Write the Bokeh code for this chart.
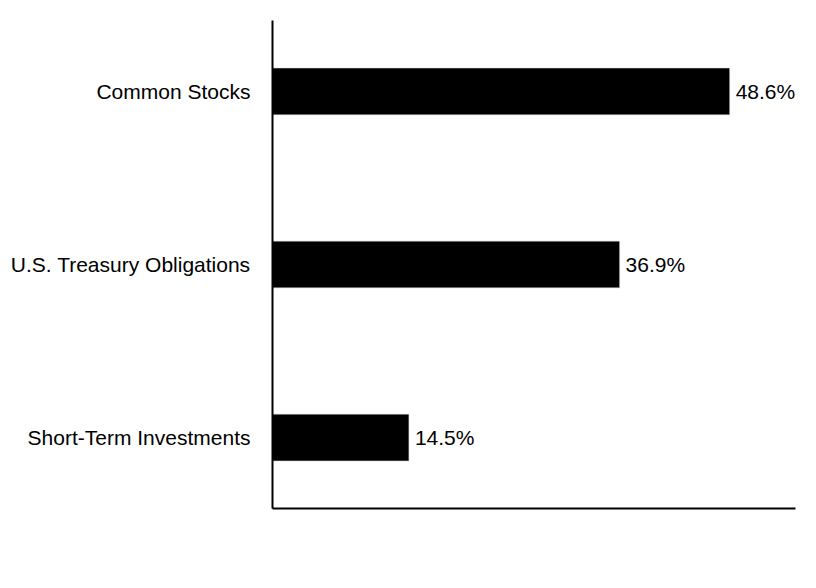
from bokeh.models import ColumnDataSource, FixedTicker, Range1d
from bokeh.plotting import figure
from bokeh.core.properties import value
from bokeh.embed import file_html
from bokeh.resources import INLINE

categories = ["Common Stocks", "U.S. Treasury Obligations", "Short-Term Investments"]
values = [48.6, 36.9, 14.5]
labels = ["48.6%", "36.9%", "14.5%"]

ypos = list(range(len(categories)))
src = ColumnDataSource(data=dict(y=ypos, v=values, lab=labels))

p = figure(frame_width=523, frame_height=488, output_backend="svg",
           toolbar_location=None, x_range=Range1d(0, 55.6),
           y_range=Range1d(2.41, -0.41))
p.min_border_left = 272
p.min_border_top = 20
p.min_border_right = 10
p.min_border_bottom = 50
p.outline_line_color = None
p.grid.visible = False

p.hbar(y="y", left=0, right="v", height=0.27, source=src,
       fill_color="black", line_color="#cccccc", line_width=0.5)
p.text(x="v", y="y", text="lab", source=src, x_offset=6,
       text_align="left", text_baseline="middle",
       text_font=value("Liberation Sans"), text_font_size="21px",
       text_color="black")

ya = p.yaxis[0]
ya.ticker = FixedTicker(ticks=ypos)
ya.major_label_overrides = {i: c for i, c in enumerate(categories)}
ya.major_label_text_font = "Liberation Sans"
ya.major_label_text_font_size = "21px"
ya.major_label_text_color = "black"
ya.major_label_standoff = 22
ya.major_tick_out = 0
ya.major_tick_line_color = None
ya.minor_tick_line_color = None
ya.axis_line_color = "black"
ya.axis_line_width = 2

xa = p.xaxis[0]
xa.ticker = FixedTicker(ticks=[])
xa.major_tick_line_color = None
xa.minor_tick_line_color = None
xa.axis_line_color = "black"
xa.axis_line_width = 2

open("out.html", "w").write(file_html(p, INLINE))
